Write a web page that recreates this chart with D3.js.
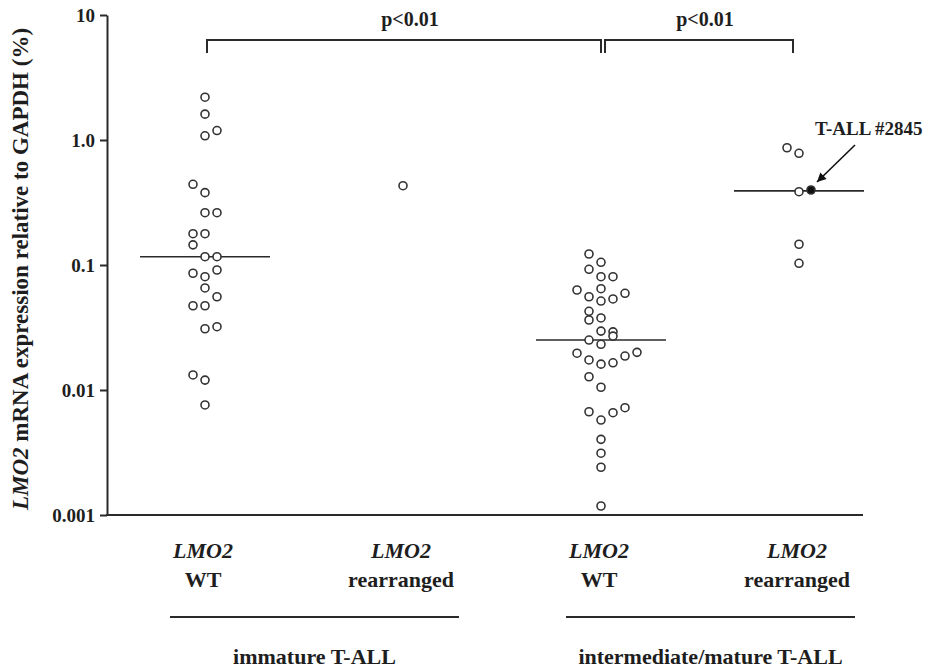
<!DOCTYPE html>
<html>
<head>
<meta charset="utf-8">
<script src="https://cdn.jsdelivr.net/npm/d3@7"></script>
<style>
  body { margin: 0; background: #fff; }
  text { font-family: "Liberation Serif", "Times New Roman", serif; font-weight: bold; fill: #1e1e1e; }
</style>
</head>
<body>
<svg id="chart" width="928" height="671"></svg>
<script>
// ---- data -------------------------------------------------------------
const groups = ["immWT", "immRearr", "intWT", "intRearr"];
const groupGene = ["LMO2", "LMO2", "LMO2", "LMO2"];
const groupStatus = ["WT", "rearranged", "WT", "rearranged"];

const lineages = ["immature T-ALL", "intermediate/mature T-ALL"];
const lineageGroups = [["immWT", "immRearr"], ["intWT", "intRearr"]];

// LMO2 mRNA expression (% of GAPDH), one value per patient
const immWT = [2.20, 1.61, 1.08, 1.19, 0.442, 0.379, 0.262, 0.262, 0.178, 0.178,
               0.145, 0.1165, 0.1165, 0.0912, 0.0859, 0.0806, 0.0655, 0.0557,
               0.0472, 0.0472, 0.0309, 0.0321, 0.0132, 0.0120, 0.00759];
const immWTLane = [0, 0, 0, 1, -1, 0, 0, 1, -1, 0,
                   -1, 0, 1, 1, -1, 0, 0, 1,
                   -1, 0, 0, 1, -1, 0, 0];

const immRearr = [0.431];
const immRearrLane = [0];

const intWT = [0.1225, 0.1051, 0.0924, 0.0806, 0.0806, 0.0631, 0.0646, 0.0557, 0.0515,
               0.0535, 0.0594, 0.0426, 0.0363, 0.0377, 0.0296, 0.0292, 0.0270, 0.0251,
               0.0232, 0.0197, 0.0174, 0.0161, 0.0165, 0.0187, 0.0200, 0.01276, 0.01052,
               0.0067, 0.00575, 0.00658, 0.00722, 0.00403, 0.00312, 0.00241, 0.00118];
const intWTLane = [-1, 0, -1, 0, 1, -2, 0, -1, 0,
                   1, 2, -1, -1, 0, 0, 1, 1, -1,
                   0, -2, -1, 0, 1, 2, 3, -1, 0,
                   -1, 0, 1, 2, 0, 0, 0, 0];

const intRearr = [0.867, 0.783, 0.386, 0.398, 0.1466, 0.1032];
const intRearrLane = [-1, 0, 0, 1, 0, 0];

// highlighted patient
const caseGroup = "intRearr";
const caseIndex = 3;
const caseLabel = "T-ALL #2845";

// significance brackets
const comparisons = [["immWT", "intWT"], ["intWT", "intRearr"]];
const comparisonLabels = ["p<0.01", "p<0.01"];

// y axis
const yTicks = [0.001, 0.01, 0.1, 1, 10];
const yTickLabels = ["0.001", "0.01", "0.1", "1.0", "10"];

// ---- assemble ---------------------------------------------------------
const seriesValues = { immWT, immRearr, intWT, intRearr };
const seriesLanes = { immWT: immWTLane, immRearr: immRearrLane, intWT: intWTLane, intRearr: intRearrLane };

const points = [];
groups.forEach(g => {
  seriesValues[g].forEach((v, i) => {
    points.push({ group: g, value: v, lane: seriesLanes[g][i],
                  highlight: g === caseGroup && i === caseIndex });
  });
});

// ---- layout -----------------------------------------------------------
const svg = d3.select("#chart");
const axisX = 107, axisRight = 863;
const yTop = 15, yBottom = 515;

const x = d3.scalePoint().domain(groups).range([205, 799]);
const lane = d3.scaleLinear().domain([-1, 1]).range([-12, 12]);
const y = d3.scaleLog().domain([0.001, 10]).range([yBottom, yTop]);

const ink = "#2a2a2a";

// y axis
const yAxis = d3.axisLeft(y)
  .tickValues(yTicks)
  .tickFormat((d, i) => yTickLabels[i])
  .tickSize(7)
  .tickPadding(5)
  .tickSizeOuter(0);

const gy = svg.append("g")
  .attr("transform", `translate(${axisX},0)`)
  .call(yAxis);
gy.select(".domain").attr("stroke", ink).attr("stroke-width", 2);
gy.selectAll(".tick line").attr("stroke", ink).attr("stroke-width", 2);
gy.selectAll(".tick text")
  .attr("font-size", 19)
  .attr("font-family", "Liberation Serif, Times New Roman, serif")
  .attr("font-weight", "bold")
  .attr("fill", "#1e1e1e");

// baseline
svg.append("line")
  .attr("x1", axisX - 1).attr("x2", axisRight)
  .attr("y1", y(0.001)).attr("y2", y(0.001))
  .attr("stroke", ink).attr("stroke-width", 2);

// y title
const yTitle = svg.append("text")
  .attr("transform", `translate(28,${(yTop + yBottom) / 2 + 4}) rotate(-90)`)
  .attr("text-anchor", "middle")
  .attr("font-size", 23);
yTitle.append("tspan").attr("font-style", "italic").text("LMO2");
yTitle.append("tspan").text(" mRNA expression relative to GAPDH (%)");

// medians
const medianHalf = 65;
groups.forEach(g => {
  const vals = seriesValues[g];
  if (vals.length < 2) return;
  const m = d3.median(vals);
  svg.append("line")
    .attr("x1", x(g) - medianHalf).attr("x2", x(g) + medianHalf)
    .attr("y1", y(m)).attr("y2", y(m))
    .attr("stroke", ink).attr("stroke-width", 1.6);
});

// patients
svg.append("g").selectAll("circle")
  .data(points)
  .join("circle")
  .attr("cx", d => x(d.group) + lane(d.lane))
  .attr("cy", d => y(d.value))
  .attr("r", 4)
  .attr("fill", d => d.highlight ? "#111" : "#fff")
  .attr("stroke", "#333")
  .attr("stroke-width", 1.6);

// highlighted patient annotation
const hp = points.find(d => d.highlight);
const hx = x(hp.group) + lane(hp.lane), hy = y(hp.value);
svg.append("defs").append("marker")
  .attr("id", "head")
  .attr("viewBox", "0 0 10 10")
  .attr("refX", 10).attr("refY", 5)
  .attr("markerWidth", 12).attr("markerHeight", 9)
  .attr("markerUnits", "userSpaceOnUse")
  .attr("orient", "auto")
  .append("path").attr("d", "M0,0 L10,5 L0,10 Z").attr("fill", "#111");
svg.append("line")
  .attr("x1", hx + 44).attr("y1", hy - 45)
  .attr("x2", hx + 6).attr("y2", hy - 8)
  .attr("stroke", "#111").attr("stroke-width", 1.6)
  .attr("marker-end", "url(#head)");
svg.append("text")
  .attr("x", hx + 4).attr("y", hy - 55)
  .attr("font-size", 19)
  .text(caseLabel);

// significance brackets
const bracketTop = 40, bracketDrop = 13;
comparisons.forEach((c, i) => {
  const x1 = x(c[0]) + (i === 0 ? 2 : 4);
  const x2 = x(c[1]) - (i === 0 ? 0 : 6);
  svg.append("path")
    .attr("d", `M${x1},${bracketTop + bracketDrop}V${bracketTop}H${x2}V${bracketTop + bracketDrop}`)
    .attr("fill", "none").attr("stroke", ink).attr("stroke-width", 2);
  svg.append("text")
    .attr("x", (x1 + x2) / 2 + 6).attr("y", 26)
    .attr("text-anchor", "middle")
    .attr("font-size", 20)
    .text(comparisonLabels[i]);
});

// category labels
groups.forEach((g, i) => {
  svg.append("text")
    .attr("x", x(g) - 2).attr("y", 558)
    .attr("text-anchor", "middle")
    .attr("font-size", 22)
    .attr("font-style", "italic")
    .text(groupGene[i]);
  svg.append("text")
    .attr("x", x(g) - 2).attr("y", 587)
    .attr("text-anchor", "middle")
    .attr("font-size", 22)
    .text(groupStatus[i]);
});

// lineage brackets
lineages.forEach((name, i) => {
  const [a, b] = lineageGroups[i];
  const x1 = x(a) - 35, x2 = x(b) + 56;
  svg.append("line")
    .attr("x1", x1).attr("x2", x2)
    .attr("y1", 617).attr("y2", 617)
    .attr("stroke", ink).attr("stroke-width", 2);
  svg.append("text")
    .attr("x", (x1 + x2) / 2).attr("y", 664)
    .attr("text-anchor", "middle")
    .attr("font-size", 22)
    .text(name);
});
</script>
</body>
</html>
